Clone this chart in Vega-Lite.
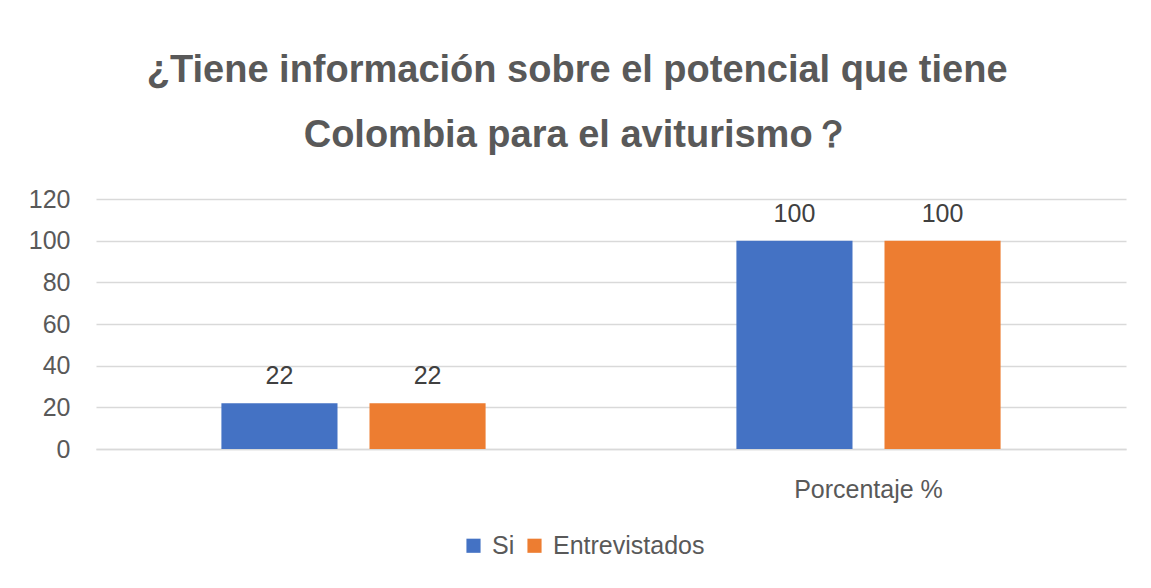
{
  "$schema": "https://vega.github.io/schema/vega-lite/v6.json",
  "width": 1030,
  "height": 250,
  "padding": {"left": 28, "top": 52, "right": 25, "bottom": 10},
  "background": "white",
  "title": {
    "text": ["¿Tiene información sobre el potencial que tiene", "Colombia para el aviturismo？"],
    "font": "Liberation Sans",
    "fontSize": 38,
    "fontWeight": "bold",
    "color": "#595959",
    "lineHeight": 65,
    "anchor": "middle",
    "frame": "bounds",
    "offset": 32
  },
  "data": {
    "values": [
      {"categoria": "", "serie": "Si", "valor": 22},
      {"categoria": "", "serie": "Entrevistados", "valor": 22},
      {"categoria": "Porcentaje %", "serie": "Si", "valor": 100},
      {"categoria": "Porcentaje %", "serie": "Entrevistados", "valor": 100}
    ]
  },
  "encoding": {
    "x": {
      "field": "categoria",
      "type": "nominal",
      "sort": ["", "Porcentaje %"],
      "scale": {"paddingInner": 0.487, "paddingOuter": 0.2435},
      "axis": {
        "title": null,
        "labelAngle": 0,
        "labelFont": "Liberation Sans",
        "labelFontSize": 25,
        "labelColor": "#595959",
        "labelPadding": 28,
        "ticks": false,
        "domainColor": "#d9d9d9",
        "domainWidth": 1.5
      }
    },
    "xOffset": {
      "field": "serie",
      "type": "nominal",
      "sort": ["Si", "Entrevistados"],
      "scale": {"paddingInner": 0.216}
    },
    "y": {
      "field": "valor",
      "type": "quantitative",
      "scale": {"domain": [0, 120]},
      "axis": {
        "title": null,
        "values": [0, 20, 40, 60, 80, 100, 120],
        "labelFont": "Liberation Sans",
        "labelFontSize": 25,
        "labelColor": "#595959",
        "labelPadding": 26,
        "ticks": false,
        "domain": false,
        "gridColor": "#d9d9d9",
        "gridWidth": 1.5
      }
    }
  },
  "layer": [
    {
      "mark": {"type": "bar"},
      "encoding": {
        "color": {
          "field": "serie",
          "type": "nominal",
          "sort": ["Si", "Entrevistados"],
          "scale": {"domain": ["Si", "Entrevistados"], "range": ["#4472C4", "#ED7D31"]},
          "legend": {
            "title": null,
            "orient": "none",
            "direction": "horizontal",
            "legendX": 365,
            "legendY": 334,
            "symbolType": "square",
            "symbolSize": 200,
            "labelFont": "Liberation Sans",
            "labelFontSize": 25,
            "labelColor": "#595959",
            "columnPadding": 7,
            "labelOffset": 6
          }
        }
      }
    },
    {
      "mark": {
        "type": "text",
        "baseline": "bottom",
        "dy": -14,
        "font": "Liberation Sans",
        "fontSize": 25,
        "color": "#404040"
      },
      "encoding": {"text": {"field": "valor", "type": "quantitative"}}
    }
  ],
  "config": {"view": {"stroke": null}}
}
